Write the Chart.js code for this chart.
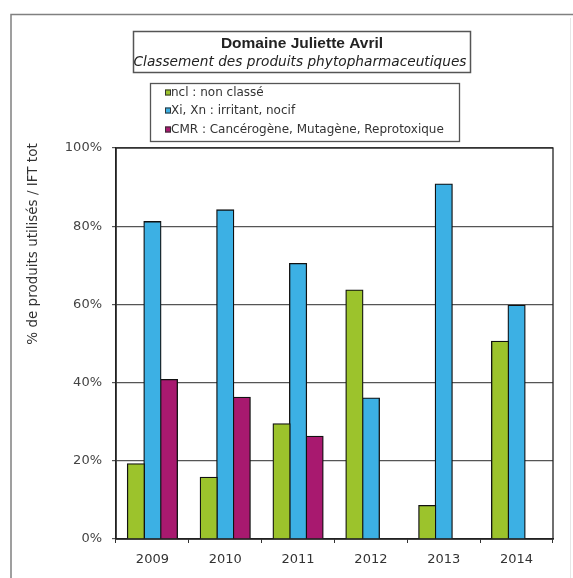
<!DOCTYPE html>
<html>
<head>
<meta charset="utf-8">
<script src="https://cdn.jsdelivr.net/npm/chart.js@4"></script>
<style>
html,body{margin:0;padding:0;background:#fff;}
#c{display:block;}
</style>
</head>
<body>
<canvas id="c" width="573" height="578"></canvas>
<script>
const categories = ['2009','2010','2011','2012','2013','2014'];
const seriesLabels = ['ncl : non classé','Xi, Xn : irritant, nocif','CMR : Cancérogène, Mutagène, Reprotoxique'];
const nclValues = [19.2, 15.7, 29.4, 63.6, 8.5, 50.5];
const xiXnValues = [81.1, 84.1, 70.4, 36.0, 90.7, 59.7];
const cmrValues = [40.7, 36.2, 26.2, null, null, null];
const yTicks = [0, 20, 40, 60, 80, 100];
const titleLine1 = 'Domaine Juliette Avril';
const titleLine2 = 'Classement des produits phytopharmaceutiques';
const yAxisTitle = '% de produits utilisés / IFT tot';

const colors = ['#9cc32c', '#3cb0e4', '#a8196f'];

const decor = {
  id: 'decor',
  beforeDraw(chart) {
    const ctx = chart.ctx;
    ctx.save();
    ctx.fillStyle = '#fff';
    ctx.fillRect(0, 0, chart.width, chart.height);
    ctx.restore();
  },
  afterDraw(chart) {
    const ctx = chart.ctx;
    const a = chart.chartArea;
    ctx.save();
    // outer frame
    ctx.strokeStyle = '#808080';
    ctx.lineWidth = 1.5;
    ctx.beginPath();
    ctx.moveTo(11, 578);
    ctx.lineTo(11, 14.5);
    ctx.lineTo(573, 14.5);
    ctx.stroke();
    ctx.strokeStyle = '#e6e6e6';
    ctx.lineWidth = 1;
    ctx.beginPath();
    ctx.moveTo(570.5, 18);
    ctx.lineTo(570.5, 578);
    ctx.stroke();

    // plot border top/right
    ctx.strokeStyle = '#222';
    ctx.lineWidth = 1.3;
    ctx.strokeRect(a.left, a.top, a.right - a.left, a.bottom - a.top);

    // title box
    ctx.strokeStyle = '#555';
    ctx.lineWidth = 1.5;
    ctx.strokeRect(133.5, 31.5, 337, 41);
    ctx.fillStyle = '#222';
    ctx.textAlign = 'center';
    ctx.textBaseline = 'middle';
    ctx.font = 'bold 15.5px "Liberation Sans", Arial, sans-serif';
    ctx.fillText(titleLine1, 302, 44);
    ctx.font = 'italic 13.7px "DejaVu Sans", sans-serif';
    ctx.fillText(titleLine2, 300, 62, 334);

    // legend box
    ctx.strokeStyle = '#555';
    ctx.lineWidth = 1.3;
    ctx.strokeRect(150.5, 83.5, 309, 58);
    ctx.font = '12px "DejaVu Sans", sans-serif';
    ctx.textAlign = 'left';
    const rows = [92.5, 110.5, 129.5];
    chart.data.datasets.forEach((ds, i) => {
      const y = rows[i];
      ctx.fillStyle = ds.backgroundColor;
      ctx.fillRect(165, y - 3, 6, 6);
      ctx.strokeStyle = '#333';
      ctx.lineWidth = 1;
      ctx.strokeRect(165.5, y - 2.5, 5, 5);
      ctx.fillStyle = '#333';
      ctx.fillText(ds.label, 171, y + 0.5);
    });

    // y axis title
    ctx.translate(33, 244);
    ctx.rotate(-Math.PI / 2);
    ctx.textAlign = 'center';
    ctx.textBaseline = 'middle';
    ctx.fillStyle = '#333';
    ctx.font = '13.5px "DejaVu Sans", sans-serif';
    ctx.fillText(yAxisTitle, 0, 0);
    ctx.restore();
  }
};

new Chart(document.getElementById('c'), {
  type: 'bar',
  data: {
    labels: categories,
    datasets: [
      { label: seriesLabels[0], data: nclValues, backgroundColor: colors[0] },
      { label: seriesLabels[1], data: xiXnValues, backgroundColor: colors[1] },
      { label: seriesLabels[2], data: cmrValues, backgroundColor: colors[2] }
    ]
  },
  options: {
    responsive: false,
    animation: false,
    devicePixelRatio: 1,
    layout: { padding: { left: 0, top: 148, right: 20, bottom: 0 } },
    datasets: {
      bar: {
        borderColor: '#111',
        borderWidth: 1.3,
        inflateAmount: 0.8,
        categoryPercentage: 0.68,
        barPercentage: 1.0
      }
    },
    plugins: {
      legend: { display: false },
      title: { display: false },
      tooltip: { enabled: false }
    },
    scales: {
      x: {
        afterFit(s) { s.height = 39; },
        grid: { display: true, drawOnChartArea: false, drawTicks: true, tickLength: 4, color: '#333', offset: true },
        border: { display: true, color: '#222', width: 1.5 },
        ticks: { color: '#333', padding: 9, font: { family: '"DejaVu Sans", sans-serif', size: 13 } }
      },
      y: {
        min: 0,
        max: 100,
        afterFit(s) { s.width = 116; },
        afterBuildTicks(s) { s.ticks = yTicks.map(v => ({ value: v })); },
        grid: { color: '#555', lineWidth: 1.2, tickLength: 4, drawTicks: true },
        border: { display: true, color: '#222', width: 1.5 },
        ticks: {
          color: '#444',
          padding: 10,
          font: { family: '"DejaVu Sans", sans-serif', size: 13 },
          callback: v => v + '%'
        }
      }
    }
  },
  plugins: [decor]
});
</script>
</body>
</html>
